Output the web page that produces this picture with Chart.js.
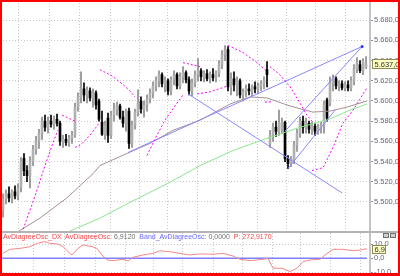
<!DOCTYPE html>
<html>
<head>
<meta charset="utf-8">
<script src="https://cdn.jsdelivr.net/npm/chart.js@4.4.0/dist/chart.umd.min.js"></script>
<style>
  body { margin: 0; background: #fff; }
  #wrap { position: relative; width: 400px; height: 276px; overflow: hidden; background: #fff; }
  #main { position: absolute; left: 0; top: 0; }
  #sub { position: absolute; left: 0; top: 233px; }
  #sep { position: absolute; left: 0; top: 231px; width: 400px; height: 2px; background: #b4b4b4; }
  #head { position: absolute; left: 3px; top: 233px; font: 7px 'Liberation Sans', Arial, sans-serif; line-height: 8px; white-space: pre; }
  #head .r { color: #f04848; }
  #head .b { color: #6868ff; }
  #head .g { color: #707070; }
  .btn { position: absolute; top: 233px; width: 4px; height: 3px; background: #d0d0d0; border: 1px solid #707070; }
  #frame { position: absolute; left: 0; top: 0; width: 400px; height: 276px; box-sizing: border-box; border: 2px solid #ff0000; border-bottom-width: 3px; pointer-events: none; }
</style>
</head>
<body>
<div id="wrap">
  <canvas id="main" width="400" height="231"></canvas>
  <div id="sep"></div>
  <canvas id="sub" width="400" height="41"></canvas>
  <div id="head"></div>
  <div class="btn" style="left:383px"></div>
  <div class="btn" style="left:390px"></div>
  <div id="frame"></div>
</div>
<script>
'use strict';

// candles, one per bar index 0..121
const barOpen = [5492,5503,5508,5504,5510,5506,5514,5543,5531,5526,5540,5552,5560,5568,5580,5574,5580,5577,5582,5578,
  5560,5562,5559,5563,5566,5594,5604,5612,5606,5610,5603,5608,5600,5579,5567,5583,5566,5586,5592,5595,
  5584,5578,5590,5558,5576,5589,5600,5592,5596,5602,5608,5615,5620,5626,5617,5620,5610,5621,5626,5615,
  5624,5628,5621,5610,5618,5626,5630,5624,5627,5622,5626,5623,5628,5636,5646,5651,5614,5622,5616,5620,
  5606,5609,5612,5610,5614,5612,5615,5617,5631,5558,5566,5574,5570,5572,5579,5543,5538,5542,5556,5568,
  5580,5574,5578,5572,5575,5570,5574,5576,5601,5598,5618,5622,5615,5617,5613,5616,5613,5620,5632,5636,
  5630,5633];
const barHigh = [5508,5512,5515,5512,5516,5518,5544,5548,5536,5545,5556,5565,5572,5584,5586,5584,5586,5585,5587,5580,
  5566,5567,5566,5570,5598,5608,5629,5618,5614,5613,5612,5610,5602,5590,5580,5588,5590,5598,5599,5597,
  5590,5592,5593,5580,5592,5611,5604,5600,5606,5612,5619,5624,5630,5628,5624,5622,5624,5630,5628,5628,
  5634,5630,5624,5622,5630,5642,5632,5630,5631,5629,5632,5630,5640,5650,5655,5654,5628,5629,5624,5622,
  5612,5616,5617,5616,5619,5618,5620,5624,5639,5571,5578,5580,5591,5583,5580,5546,5545,5560,5572,5584,
  5585,5583,5580,5579,5578,5577,5579,5600,5603,5624,5626,5624,5620,5620,5619,5620,5624,5636,5643,5640,
  5642,5644];
const barLow = [5485,5498,5500,5499,5503,5502,5510,5526,5520,5514,5536,5547,5553,5562,5570,5568,5574,5572,5575,5556,
  5554,5556,5555,5558,5564,5590,5598,5600,5598,5600,5594,5592,5580,5566,5562,5559,5563,5580,5586,5582,
  5574,5570,5553,5554,5572,5585,5588,5584,5590,5598,5603,5610,5614,5614,5609,5606,5606,5616,5612,5612,
  5618,5618,5606,5605,5614,5620,5620,5619,5620,5618,5620,5619,5624,5632,5640,5610,5606,5610,5605,5603,
  5600,5604,5606,5605,5608,5607,5610,5612,5614,5554,5560,5565,5566,5568,5540,5533,5535,5538,5550,5564,
  5568,5568,5568,5567,5566,5567,5568,5568,5580,5595,5610,5612,5610,5611,5610,5610,5610,5616,5628,5628,
  5626,5632];
const barClose = [5503,5508,5504,5510,5506,5514,5540,5531,5526,5540,5552,5560,5568,5580,5574,5580,5577,5582,5578,5560,
  5562,5559,5563,5566,5594,5604,5612,5606,5611,5603,5608,5596,5582,5567,5576,5566,5586,5592,5596,5584,
  5578,5590,5558,5576,5589,5598,5592,5596,5602,5608,5615,5620,5626,5617,5620,5610,5621,5626,5615,5624,
  5628,5621,5610,5618,5626,5630,5624,5627,5622,5626,5623,5628,5636,5646,5651,5614,5622,5616,5620,5606,
  5609,5612,5610,5614,5612,5615,5617,5621,5626,5566,5574,5570,5578,5579,5543,5538,5542,5556,5568,5580,
  5574,5578,5572,5575,5570,5574,5576,5596,5583,5618,5622,5615,5617,5613,5616,5613,5620,5632,5638,5630,
  5639,5637];

// moving averages (bar index, price)
const slowX = [4.7,12.3,21.3,30,32.3,41.3,49,56.7,65.7,75.7,82.3,88,95.7,103.3,109,114.7,121.3];
const slowY = [5470,5484,5504,5528,5536,5548,5558,5571,5581,5597,5604,5603,5595,5589,5590,5594,5600];
const greenX = [22.3,32.3,43.3,54.7,65.7,76.7,88,99,108,115.7,121.3];
const greenY = [5471,5484,5501,5518,5536,5551,5563,5574,5581,5591,5597];

// parabolic stop segments
const sarX = [[6.7,10.7,14,16.7,18.3],[19.7,24],[24,25.7,29,32.3],[32.3,36.3,39.7,42.3,44],
  [48,51.3,54,57.3,60],[60,65.7],[64.7,69,75],[75,80,84.7,88],[87.3,89.3],
  [89,92.3,95.7,99,101.3,103.3],[103,106.7,110,113.3,116.7,121.3]];
const sarY = [[5473,5506,5536,5559,5571],[5586,5580],[5554,5556,5566,5579],[5631,5625,5617,5610,5604],
  [5546,5566,5581,5595,5606],[5638,5634],[5607,5609,5615],[5655,5648,5638,5629],[5599,5599],
  [5634,5626,5614,5598,5586,5579],[5531,5534,5554,5578,5591,5613]];

// trend lines
const trendX = [[41.7,119.7],[61.7,113],[95,110.7],[94,119.7]];
const trendY = [[5549,5654],[5607,5509],[5533,5591],[5570,5654]];

// oscillator panel
const oscX = [0,2.3,5.7,9,11.3,14,15.7,18.3,20,22.3,23,25,26.7,29.7,31.3,33,34.7,36.7,40,41.7,43.3,46.7,50,52.3,
  55.7,59,62.3,65.7,70,73.3,76.7,79,82.3,86.7,88.3,90,93,95.7,98,100,102.3,105.7,108,110,113.3,116.7,119,121.3];
const oscY = [3.5,6.4,7.1,8.3,10.7,11.9,10.7,10.2,8.3,3.5,2.4,7.1,9.5,8.3,7.1,2.4,-1.2,-1.7,-0.7,-1.9,0.7,2.4,3.5,5.4,
  4.7,3.5,2.4,3.1,2.9,3.5,1.6,-0.7,-1.7,-0.7,0,-7.1,-7.1,-9.5,-7.1,-2.4,-1.2,-0.7,3.5,6.4,6.4,5.4,5.9,6.9];
const bandX = [-1,121.3];
const bandY = [0,0];
const oscLast = 6.9120;
const bandLast = 0;
const pValue = 272.9170;

const priceTicks = [5500,5520,5540,5560,5580,5600,5620,5640,5660,5680,5700];
const oscTicks = [-10,0,10];
const timeGrid = [10.3,20.5,30.7,40.7,50,59.7,70,79.7,89.7,99,109,119.3];

Chart.defaults.font.family = "'Liberation Sans', Arial, sans-serif";
Chart.defaults.animation = false;

function deNum(v, d) {
  let s = Math.abs(v).toFixed(d).split('.');
  s[0] = s[0].replace(/\B(?=(\d{3})+(?!\d))/g, '.');
  return (v < 0 ? '-' : '') + s[0] + ',' + s[1];
}

function pts(xs, ys) {
  return xs.map((x, i) => ({ x: x, y: ys[i] }));
}

function isDown(i) {
  return barClose[i] < barOpen[i];
}

const wicks = barHigh.map((h, i) => ({ x: i, y: [barLow[i], h] }));
const bodies = barOpen.map((o, i) => ({ x: i, y: [o, barClose[i]] }));

let datasets = [
  {
    type: 'bar', data: wicks, barThickness: 1, grouped: false, order: 6,
    backgroundColor: c => isDown(c.dataIndex) ? '#000000' : '#8c8c8c'
  },
  {
    type: 'bar', data: bodies, barThickness: 2, grouped: false, order: 5, minBarLength: 1,
    backgroundColor: c => isDown(c.dataIndex) ? '#000000' : '#b0b0b0'
  },
  { type: 'line', data: pts(slowX, slowY), borderColor: '#a89090', borderWidth: 1, pointRadius: 0, order: 2 },
  { type: 'line', data: pts(greenX, greenY), borderColor: '#8ce68c', borderWidth: 1, pointRadius: 0, order: 2 }
];

for (let s = 0; s < sarX.length; s++) {
  datasets.push({
    type: 'line', data: pts(sarX[s], sarY[s]), borderColor: '#ff00ff', borderWidth: 1,
    borderDash: [2, 2], pointRadius: 0, order: 1
  });
}
for (let t = 0; t < trendX.length; t++) {
  datasets.push({
    type: 'line', data: pts(trendX[t], trendY[t]), borderColor: '#8888ff', borderWidth: 1,
    pointRadius: 0, order: 1
  });
}
datasets.push({
  type: 'line', data: [{ x: trendX[0][1], y: trendY[0][1] }], pointRadius: 1.5,
  pointBackgroundColor: '#3030ff', pointBorderWidth: 0, showLine: false, order: 0
});

function xAxis() {
  return {
    type: 'linear', min: -1, max: 122.33, offset: false,
    afterBuildTicks: s => { s.ticks = timeGrid.map(v => ({ value: v })); },
    afterFit: s => { s.height = 0; s.paddingLeft = 0; s.paddingRight = 0; },
    ticks: { display: false },
    grid: { color: '#c8c8c8', drawTicks: false },
    border: { display: false, dash: [1, 2] }
  };
}

function yAxis(min, max, ticks, digits) {
  return {
    type: 'linear', position: 'right', min: min, max: max,
    afterBuildTicks: s => { s.ticks = ticks.map(v => ({ value: v })); },
    afterFit: s => { s.width = 30; s.paddingTop = 0; s.paddingBottom = 0; },
    ticks: {
      padding: 1, color: '#66667a', font: { size: 7.5 },
      callback: v => deNum(v, digits)
    },
    grid: { color: '#c8c8c8', tickLength: 3, tickColor: '#909090', tickWidth: 1 },
    border: { display: true, color: '#c4c4c4', width: 2, dash: [1, 2] }
  };
}

// yellow value boxes on the right axis
function valueBox(value, text, w, h) {
  return {
    id: 'box',
    afterDraw(chart) {
      const ctx = chart.ctx;
      const y = chart.scales.y.getPixelForValue(value);
      ctx.save();
      ctx.fillStyle = '#ffffc4';
      ctx.strokeStyle = '#8a8a5a';
      ctx.lineWidth = 1;
      ctx.fillRect(372.5, Math.round(y - h / 2) + 0.5, w, h);
      ctx.strokeRect(372.5, Math.round(y - h / 2) + 0.5, w, h);
      ctx.fillStyle = '#303030';
      ctx.font = "7.5px 'Liberation Sans', Arial, sans-serif";
      ctx.textBaseline = 'middle';
      ctx.fillText(text, 374.5, Math.round(y) + 1);
      ctx.restore();
    }
  };
}

new Chart(document.getElementById('main'), {
  type: 'bar',
  data: { datasets: datasets },
  options: {
    responsive: false,
    devicePixelRatio: 1,
    layout: { padding: 0, autoPadding: false },
    plugins: { legend: { display: false }, tooltip: { enabled: false } },
    scales: { x: xAxis(), y: yAxis(5471.2, 5700.05, priceTicks, 1) }
  },
  plugins: [valueBox(barClose[barClose.length - 1], deNum(barClose[barClose.length - 1], 1), 27, 9)]
});

new Chart(document.getElementById('sub'), {
  type: 'line',
  data: {
    datasets: [
      { data: pts(oscX, oscY), borderColor: '#f48888', borderWidth: 1, pointRadius: 0 },
      { data: pts(bandX, bandY), borderColor: '#8080ff', borderWidth: 1.5, pointRadius: 0 }
    ]
  },
  options: {
    responsive: false,
    devicePixelRatio: 1,
    layout: { padding: 0, autoPadding: false },
    plugins: { legend: { display: false }, tooltip: { enabled: false } },
    scales: { x: xAxis(), y: yAxis(-11.21, 18.07, oscTicks, 1) }
  },
  plugins: [valueBox(oscLast, deNum(oscLast, 1), 13, 8)]
});

document.getElementById('head').innerHTML =
  '<span class="r">AvDiagreeOsc_DX  AvDiagreeOsc: </span><span class="g">' + deNum(oscLast, 4) + '</span>' +
  '<span class="b">  Band_AvDiagreeOsc: </span><span class="g">' + deNum(bandLast, 4) + '</span>' +
  '<span class="r">  P: ' + deNum(pValue, 4) + '</span>';
</script>
</body>
</html>
